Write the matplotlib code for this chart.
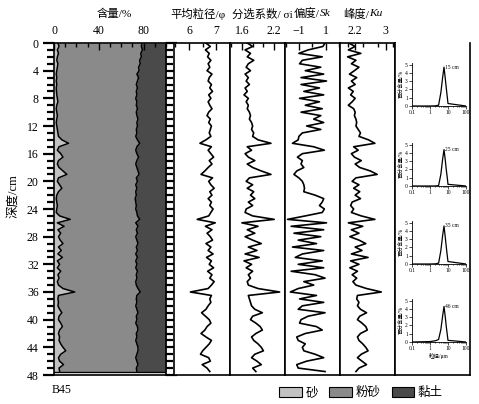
import numpy as np
import matplotlib
matplotlib.use("Agg")
import matplotlib.pyplot as plt
from matplotlib.patches import Patch
from matplotlib.ticker import MultipleLocator, FixedLocator

plt.rcParams['font.family'] = ['Liberation Serif', 'Noto Sans CJK SC']
plt.rcParams['axes.unicode_minus'] = True

# 深度 (cm), 每 0.5 cm 一个样
depth = np.arange(0, 48, 0.5)

# 砂 / 粉砂 含量 (%)，黏土 = 100 - 砂 - 粉砂
sand = [3.5, 4.5, 3.0, 4.0, 3.0, 2.5, 3.5, 3.0, 2.5, 2.0, 2.5, 2.0, 2.5, 2.0, 2.2, 2.5,
        3.0, 3.5, 2.5, 2.0, 2.5, 3.0, 2.5, 2.0, 2.5, 3.0, 3.5, 4.0, 7.0, 13.0, 4.5, 3.0,
        6.0, 8.0, 4.0, 3.0, 4.5, 8.0, 11.5, 4.0, 3.0, 5.0, 7.0, 4.0, 2.5, 2.0, 2.5, 3.0,
        2.5, 2.0, 5.0, 14.5, 3.0, 9.0, 3.5, 6.0, 4.0, 5.5, 8.0, 4.0, 6.5, 3.5, 7.5, 3.0,
        5.0, 3.0, 6.0, 3.5, 4.5, 3.0, 4.0, 8.0, 18.5, 4.0, 3.5, 4.0, 3.5, 5.0, 7.0, 4.5,
        4.0, 6.0, 7.5, 5.0, 4.0, 5.0, 4.5, 6.0, 8.0, 10.5, 6.0, 4.0, 5.0, 8.5, 4.5, 5.0]
silt = [75.0, 73.5, 76.0, 73.5, 75.0, 74.0, 73.5, 72.5, 73.5, 72.0, 73.0, 72.5, 71.0, 72.5, 71.3, 71.5,
        70.0, 70.5, 71.0, 72.5, 71.0, 71.0, 72.5, 72.0, 72.0, 70.5, 70.5, 69.0, 67.5, 63.5, 69.5, 70.0,
        68.0, 67.5, 70.0, 70.0, 69.5, 67.0, 64.5, 69.5, 71.5, 68.0, 67.0, 69.0, 71.0, 70.5, 70.5, 70.5,
        70.5, 72.0, 69.5, 62.0, 70.0, 66.0, 70.0, 68.5, 69.0, 68.5, 67.0, 69.5, 68.0, 69.5, 67.0, 70.0,
        69.0, 70.0, 68.5, 70.0, 69.5, 70.0, 69.5, 67.0, 58.5, 70.0, 70.0, 70.0, 69.5, 69.0, 68.0, 69.0,
        70.0, 67.0, 67.0, 70.0, 69.5, 69.0, 68.5, 68.0, 67.0, 64.5, 68.0, 69.0, 69.0, 66.5, 69.0, 69.0]

# 平均粒径 (phi)
mz = [6.62, 6.78, 6.60, 6.74, 6.68, 6.80, 6.70, 6.76, 6.66, 6.84, 6.74, 6.70, 6.82, 6.76, 6.86, 6.72,
      6.80, 6.70, 6.76, 6.84, 6.72, 6.66, 6.78, 6.72, 6.82, 6.78, 6.74, 6.80, 6.62, 6.40, 6.82, 6.70,
      6.80, 6.90, 6.74, 6.84, 6.70, 6.58, 6.44, 6.86, 6.72, 6.80, 6.92, 6.76, 6.84, 6.70, 6.82, 6.76,
      6.88, 6.80, 6.72, 6.30, 6.96, 6.60, 6.84, 6.66, 6.78, 6.86, 6.62, 6.80, 6.70, 6.88, 6.64, 6.82,
      6.74, 6.90, 6.68, 6.84, 6.76, 6.92, 6.82, 6.70, 6.05, 6.82, 6.76, 6.80, 6.70, 6.62, 6.46, 6.60,
      6.74, 6.80, 6.66, 6.58, 6.44, 6.62, 6.82, 6.74, 6.62, 6.50, 6.42, 6.72, 6.78, 6.48, 6.66, 6.76]

# 分选系数
sigma = [1.70, 1.80, 1.66, 1.76, 1.70, 1.82, 1.72, 1.68, 1.76, 1.66, 1.72, 1.68, 1.74, 1.66, 1.70, 1.64,
         1.72, 1.68, 1.72, 1.70, 1.74, 1.76, 1.74, 1.78, 1.80, 1.78, 1.82, 1.80, 1.90, 2.14, 1.70, 1.78,
         1.66, 1.72, 1.84, 1.70, 1.80, 1.96, 2.14, 1.74, 1.68, 1.80, 1.70, 1.82, 1.76, 1.84, 1.72, 1.80,
         1.68, 1.66, 1.80, 2.20, 1.60, 1.90, 1.70, 1.84, 1.66, 1.80, 1.96, 1.72, 1.88, 1.66, 1.92, 1.64,
         1.78, 1.68, 1.80, 1.72, 1.76, 1.70, 1.72, 1.90, 2.30, 1.72, 1.74, 1.76, 1.78, 1.84, 1.98, 1.80,
         1.76, 1.86, 1.94, 1.98, 1.86, 1.78, 1.82, 1.90, 1.96, 2.00, 1.84, 1.78, 1.88, 1.96, 1.80, 1.86]

# 偏度
sk = [0.95, 0.79, -0.32, -1.01, 0.74, -0.75, -0.96, 0.63, -0.53, 0.85, -0.85, 1.06, -0.85, 0.53, -0.64, 0.85,
      -0.96, 0.53, -0.53, 0.74, -0.85, 0.63, 0.10, 0.85, -0.43, 0.63, -0.75, -1.01, -1.06, -1.49, 0.10, 0.90,
      -0.75, -1.12, -0.75, -0.85, -0.64, -1.17, -1.38, -1.01, -0.75, -0.64, -0.59, -0.64, 0.21, 0.85, 0.74, 0.53,
      0.90, 0.74, -0.53, -1.86, 1.06, -1.59, 0.85, -1.38, 0.63, -1.06, 0.31, -1.49, 0.85, -0.75, -1.28, 0.74,
      -1.06, 0.85, -1.59, 0.21, 0.95, -0.64, 0.10, -1.06, -1.65, 0.31, -0.96, 0.85, -0.75, -1.06, 0.95, -0.32,
      -0.85, -0.96, 0.31, 0.74, -0.53, -1.17, -1.06, -0.53, -0.75, -0.64, 0.21, 0.85, -0.43, -1.17, -1.06, 0.95]

# 峰度
ku = [2.03, 2.20, 2.02, 2.35, 2.00, 2.22, 2.10, 2.30, 2.18, 2.05, 2.24, 2.10, 2.20, 2.02, 2.15, 2.08,
      2.20, 2.12, 2.02, 2.16, 2.20, 2.18, 2.22, 2.24, 2.22, 2.28, 2.34, 2.30, 2.55, 2.72, 2.16, 2.28,
      2.10, 2.18, 2.36, 2.20, 2.32, 2.60, 2.78, 2.22, 2.12, 2.30, 2.16, 2.32, 2.20, 2.34, 2.12, 2.08,
      2.16, 2.10, 2.36, 2.72, 2.02, 2.40, 2.10, 2.30, 2.06, 2.30, 2.48, 2.20, 2.38, 2.10, 2.54, 2.08,
      2.30, 2.06, 2.26, 2.12, 2.24, 2.14, 2.22, 2.50, 2.89, 2.26, 2.24, 2.30, 2.26, 2.34, 2.50, 2.32,
      2.26, 2.38, 2.48, 2.52, 2.34, 2.26, 2.30, 2.40, 2.48, 2.54, 2.36, 2.26, 2.38, 2.50, 2.30, 2.22]

# 粒度频率曲线
gs_um = [0.1, 1, 2, 3, 4, 5, 6, 7, 8, 9, 10, 100]
curve_labels = ['15 cm', '25 cm', '35 cm', '46 cm']
curves = [
    [0, 0, 0.02, 0.10, 1.6, 3.4, 4.7, 3.4, 2.2, 1.2, 0.3, 0],
    [0, 0, 0, 0.05, 1.4, 3.2, 4.4, 3.2, 2.0, 1.1, 0.2, 0],
    [0, 0, 0.02, 0.10, 1.6, 3.4, 4.6, 3.3, 2.1, 1.1, 0.3, 0],
    [0, 0.05, 0.15, 0.30, 1.5, 3.1, 4.3, 3.1, 1.9, 1.0, 0.2, 0],
]

legend_names = ['砂', '粉砂', '黏土']
fill_colors = ['#c2c2c2', '#8a8a8a', '#4a4a4a']

W, H = 479, 404


def box(x0, x1, y0=43, y1=375):
    return [x0 / W, 1 - y1 / H, (x1 - x0) / W, (y1 - y0) / H]


fig = plt.figure(figsize=(4.79, 4.04), dpi=100)
renderer = fig.canvas.get_renderer()


def top_axis(ax, xlim, major, minor, labels):
    ax.set_xlim(*xlim)
    ax.set_ylim(48, 0)
    ax.xaxis.set_major_locator(FixedLocator(major))
    ax.xaxis.set_minor_locator(minor)
    ax.set_xticklabels(labels)
    ax.tick_params(axis='x', which='both', direction='in', top=True, bottom=False,
                   labeltop=True, labelbottom=False, width=1.0, labelsize=8.5, pad=4)
    ax.tick_params(axis='x', which='major', length=5)
    ax.tick_params(axis='x', which='minor', length=3)
    for s in ax.spines.values():
        s.set_linewidth(1.2)


def header(x_px, parts, y_px=14):
    # 标题分段写，斜体的 Sk / Ku 单独一段
    x = x_px / W
    for txt, style in parts:
        t = fig.text(x, 1 - y_px / H, txt, fontsize=8.2, style=style, ha='left', va='center')
        x += t.get_window_extent(renderer).width / W


# 含量
ax1 = fig.add_axes(box(54, 166))
s = np.array(sand)
b = s + np.array(silt)
ax1.fill_betweenx(depth, 0, s, color=fill_colors[0], lw=0)
ax1.fill_betweenx(depth, s, b, color=fill_colors[1], lw=0)
ax1.fill_betweenx(depth, b, 100, color=fill_colors[2], lw=0)
ax1.plot(s, depth, color='k', lw=1.1)
ax1.plot(b, depth, color='k', lw=1.1)
ax1.axhline(depth[-1], color='k', lw=1.0)
top_axis(ax1, (0, 100), [0, 40, 80], MultipleLocator(10), ['0', '40', '80'])
ax1.yaxis.set_major_locator(MultipleLocator(4))
ax1.yaxis.set_minor_locator(MultipleLocator(1))
ax1.tick_params(axis='y', which='both', direction='out', left=True, right=True,
                width=1.6, labelsize=8.5, pad=3)
ax1.tick_params(axis='y', which='major', length=8)
ax1.tick_params(axis='y', which='minor', length=5)
ax1.set_ylim(48, 0)

panels = [
    (box(174, 230), mz, (5.45, 7.5), [6, 7], MultipleLocator(0.5), ['6', '7']),
    (box(230, 285), sigma, (1.38, 2.40), [1.6, 2.2], MultipleLocator(0.2), ['1.6', '2.2']),
    (box(285, 340), sk, (-2.05, 2.07), [-1, 1], MultipleLocator(1), ['\u22121', '1']),
    (box(340, 395), ku, (1.8, 3.25), [2.2, 3.0], MultipleLocator(0.4), ['2.2', '3']),
]
for rect, vals, xl, mj, mn, lab in panels:
    ax = fig.add_axes(rect)
    ax.plot(vals, depth, color='k', lw=1.2)
    top_axis(ax, xl, mj, mn, lab)
    ax.set_yticks([])

header(97, [('含量/%', 'normal')])
header(170, [('平均粒径/φ', 'normal')])
header(232, [('分选系数/ σi', 'normal')])
header(294, [('偏度/', 'normal'), ('Sk', 'italic')])
header(343, [('峰度/', 'normal'), ('Ku', 'italic')])

# 粒度曲线栏
ax6 = fig.add_axes(box(395, 470))
ax6.set_xticks([])
ax6.set_yticks([])
ax6.spines['top'].set_visible(False)
for k in ['left', 'right', 'bottom']:
    ax6.spines[k].set_linewidth(1.2)

inset_tops = [63, 143, 221, 299]
for top, p, lab in zip(inset_tops, curves, curve_labels):
    ia = fig.add_axes([412 / W, 1 - (top + 43) / H, 54 / W, 43 / H])
    ia.plot(gs_um, p, color='k', lw=0.9)
    ia.set_xscale('log')
    ia.set_xlim(0.1, 100)
    ia.set_ylim(0, 5.2)
    ia.set_yticks(range(6))
    ia.set_xticks([0.1, 1, 10, 100])
    ia.set_xticklabels(['0.1', '1', '10', '100'])
    ia.spines['top'].set_visible(False)
    ia.spines['right'].set_visible(False)
    for k in ['left', 'bottom']:
        ia.spines[k].set_linewidth(0.6)
    ia.tick_params(which='both', labelsize=4, width=0.5, pad=1)
    ia.tick_params(which='major', length=2)
    ia.tick_params(which='minor', length=1)
    ia.set_ylabel('百分含量/%', fontsize=4, labelpad=1)
    k = int(np.argmax(p))
    ia.text(gs_um[k] * 1.15, p[k], lab, fontsize=4, va='center', ha='left')
    if lab == curve_labels[-1]:
        ia.set_xlabel('粒径/μm', fontsize=4, labelpad=1)

fig.text(0.028, 0.515, '深度/cm', rotation=90, fontsize=9, ha='center', va='center')
fig.text(52 / W, 1 - 390 / H, 'B45', fontsize=8.5, ha='left', va='center')

handles = [Patch(facecolor=c, edgecolor='k', lw=0.8) for c in fill_colors]
fig.legend(handles, legend_names, loc='center', bbox_to_anchor=(361 / W, 1 - 393 / H),
           ncol=3, frameon=False, fontsize=9, handlelength=1.8, handleheight=0.8,
           columnspacing=0.9, handletextpad=0.3)

fig.savefig('out.png', dpi=100)
